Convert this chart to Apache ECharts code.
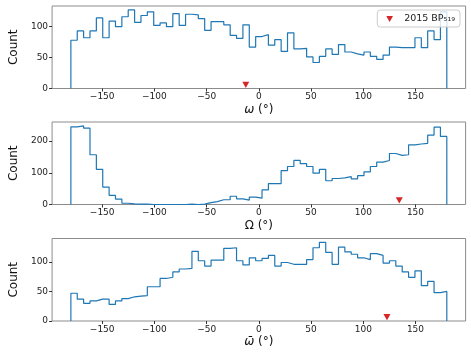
<!DOCTYPE html>
<html>
<head>
<meta charset="utf-8">
<script src="https://cdn.jsdelivr.net/npm/echarts@6/dist/echarts.min.js"></script>
<style>
    html, body { margin: 0; padding: 0; background: #fff; }
    #chart { width: 471px; height: 353px; }
</style>
</head>
<body>
<div id="chart"></div>
<script>
    // 59 equal bins from -180 to 180 deg
    var binCount = 59;
    var omegaCounts = [78, 93, 82, 93, 114, 82, 109, 100, 116, 127, 107, 118, 124, 102, 106, 100, 121, 102, 120, 119,
        113, 94, 108, 108, 103, 86, 81, 103, 67, 84,
        87, 70, 79, 60, 90, 64, 65, 51, 42, 52, 64, 55, 71, 59, 56, 54, 59, 52, 47, 54,
        67, 66, 66, 66, 82, 66, 93, 79, 124];
    var nodeCounts = [245, 248, 241, 157, 111, 55, 29, 17, 4, 2, 1, 1, 0, 0, 0, 0, 0, 0, 1, 0,
        1, 6, 9, 15, 15, 26, 18, 14, 23, 20,
        46, 66, 66, 107, 120, 139, 129, 120, 99, 111, 75, 82, 84, 88, 81, 91, 103, 120, 134, 139,
        161, 155, 157, 188, 191, 193, 219, 244, 215];
    var varpiCounts = [47, 37, 30, 34, 37, 37, 28, 34, 38, 41, 42, 43, 58, 58, 72, 74, 83, 88, 89, 118,
        102, 93, 103, 103, 123, 124, 102, 95, 107, 102,
        106, 111, 93, 99, 96, 96, 96, 104, 124, 133, 116, 96, 125, 117, 113, 107, 104, 114, 111, 98,
        102, 93, 83, 74, 85, 60, 67, 48, 50];

    var objectName = '2015 BP\u2085\u2081\u2089';
    var markerX = [-12.5, 134.5, 122.7];
    var markerY = [6, 13, 6.4];

    var xTicks = [-150, -100, -50, 0, 50, 100, 150];
    var yTicks = [[0, 50, 100], [0, 100, 200], [0, 50, 100]];
    var yMax = [133.35, 260.4, 139.65];
    var xNames = ['{i|\u03c9} (\u00b0)', '\u03a9 (\u00b0)', '{i|\u03c9\u0304} (\u00b0)'];

    var font = 'DejaVu Sans';
    var downTri = 'path://M0,0L10,0L5,9Z';

    function stepData(counts) {
        var w = 360 / binCount;
        var pts = [[-180, 0]];
        for (var i = 0; i < counts.length; i++) {
            pts.push([-180 + w * i, counts[i]]);
        }
        pts.push([180, counts[counts.length - 1]]);
        pts.push([180, 0]);
        return pts;
    }

    function fmt(v) {
        return v < 0 ? '\u2212' + (-v) : '' + v;
    }

    var tops = [6, 122, 238.5];
    var grids = [], xAxes = [], yAxes = [], series = [];
    var allCounts = [omegaCounts, nodeCounts, varpiCounts];

    for (var p = 0; p < 3; p++) {
        grids.push({
            left: 40, top: tops[p], width: 425.6, height: 82.5,
            show: true, borderColor: '#8c8c8c', borderWidth: 1
        });
        xAxes.push({
            type: 'value', gridIndex: p, min: -198, max: 198,
            name: xNames[p], nameLocation: 'middle', nameGap: 15,
            nameTextStyle: {
                fontFamily: font, fontSize: 12, color: '#111',
                rich: { i: { fontFamily: font, fontSize: 12, fontStyle: 'italic', color: '#111' } }
            },
            axisLine: { show: false, onZero: false },
            splitLine: { show: false },
            axisTick: { show: true, length: 3, customValues: xTicks, lineStyle: { color: '#333' } },
            axisLabel: {
                customValues: xTicks, formatter: fmt, margin: 4,
                fontFamily: font, fontSize: 9, color: '#222'
            }
        });
        yAxes.push({
            type: 'value', gridIndex: p, min: 0, max: yMax[p],
            name: 'Count', nameLocation: 'middle', nameGap: 29,
            nameTextStyle: { fontFamily: font, fontSize: 12, color: '#111' },
            axisLine: { show: false, onZero: false },
            splitLine: { show: false },
            axisTick: { show: true, length: 3, customValues: yTicks[p], lineStyle: { color: '#333' } },
            axisLabel: {
                customValues: yTicks[p], formatter: fmt, margin: 4,
                fontFamily: font, fontSize: 9, color: '#222'
            }
        });
        series.push({
            type: 'line', xAxisIndex: p, yAxisIndex: p,
            data: stepData(allCounts[p]), step: 'end',
            showSymbol: false, silent: true,
            lineStyle: { color: '#1f77b4', width: 1.2 }
        });
        series.push({
            type: 'scatter', name: objectName, xAxisIndex: p, yAxisIndex: p,
            data: [[markerX[p], markerY[p]]],
            symbol: downTri, symbolSize: [7, 6.3],
            itemStyle: { color: '#d62728', opacity: 1 }, z: 5
        });
    }

    var chart = echarts.init(document.getElementById('chart'));
    chart.setOption({
        animation: false,
        grid: grids,
        xAxis: xAxes,
        yAxis: yAxes,
        legend: {
            data: [{ name: objectName, icon: downTri }],
            top: 10, right: 11,
            backgroundColor: 'rgba(255,255,255,0.8)',
            borderColor: '#ccc', borderWidth: 1, borderRadius: 3,
            padding: [4, 5, 3, 9],
            itemWidth: 7, itemHeight: 6,
            textStyle: { fontFamily: font, fontSize: 9.5, color: '#222', padding: [0, 0, 0, 6] }
        },
        series: series
    });
</script>
</body>
</html>
